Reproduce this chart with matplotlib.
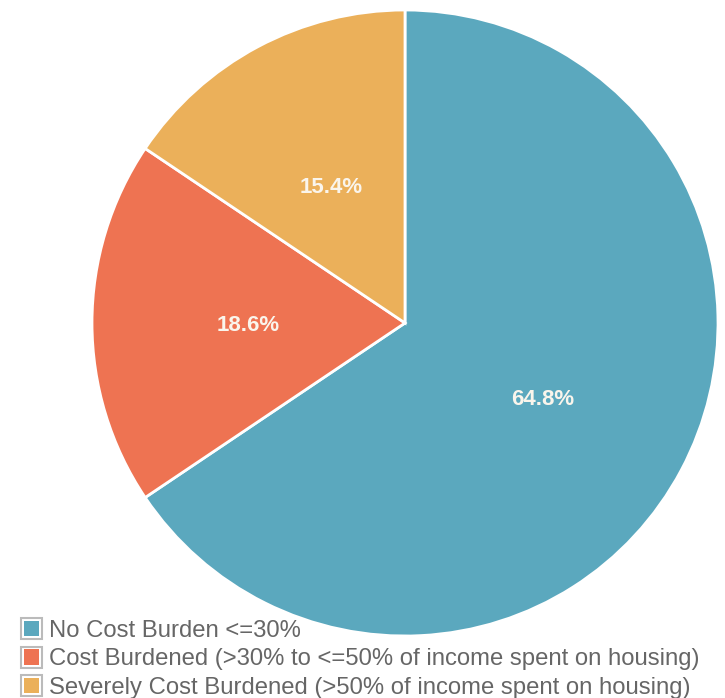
import matplotlib
matplotlib.use("Agg")
import matplotlib.pyplot as plt
from matplotlib.patches import Rectangle
from matplotlib.legend_handler import HandlerBase

categories = ["No Cost Burden <=30%",
              "Cost Burdened (>30% to <=50% of income spent on housing)",
              "Severely Cost Burdened (>50% of income spent on housing)"]
values = [64.8, 18.6, 15.4]
colors = ["#5BA8BE", "#EE7352", "#EBB05A"]
value_labels = [f"{v:.1f}%" for v in values]

W, H = 725, 698
fig = plt.figure(figsize=(W/100, H/100), dpi=100)
cx, cy, r = 405, 323, 313
ax = fig.add_axes([(cx - r)/W, 1 - (cy + r)/H, 2*r/W, 2*r/H])
wedges, texts = ax.pie(values, colors=colors, startangle=90, counterclock=False,
                       labels=value_labels, labeldistance=0.5,
                       wedgeprops=dict(edgecolor="white", linewidth=2),
                       textprops=dict(color="#FAF5EC", fontsize=16, fontweight="bold",
                                      family="Liberation Sans"))
for t in texts:
    t.set_horizontalalignment("center")
    t.set_verticalalignment("center_baseline")
ax.set_xlim(-1, 1); ax.set_ylim(-1, 1)
ax.set_aspect("equal")
ax.axis("off")


class BoxHandler(HandlerBase):
    def create_artists(self, legend, orig_handle, xdescent, ydescent, width, height, fontsize, trans):
        s = min(width, height)
        x0, y0 = -xdescent, -ydescent + (height - s) / 2
        outer = Rectangle((x0, y0), s, s, facecolor="white", edgecolor="#BBBBBB",
                          linewidth=1.5, transform=trans)
        pad = s * 0.14
        inner = Rectangle((x0 + pad, y0 + pad), s - 2*pad, s - 2*pad,
                          facecolor=orig_handle.get_facecolor(), edgecolor="none", transform=trans)
        return [outer, inner]


handles = [Rectangle((0, 0), 1, 1, facecolor=c) for c in colors]
fig.legend(handles, categories, loc="upper left", bbox_to_anchor=(21/W, 1 - 618/H),
           frameon=False, handlelength=0.98, handleheight=0.98, handletextpad=0.2,
           labelspacing=0.2, borderpad=0, borderaxespad=0,
           handler_map={Rectangle: BoxHandler()},
           prop=dict(family="Liberation Sans", size=17.2), labelcolor="#666666")

fig.savefig("out.png", dpi=100)
